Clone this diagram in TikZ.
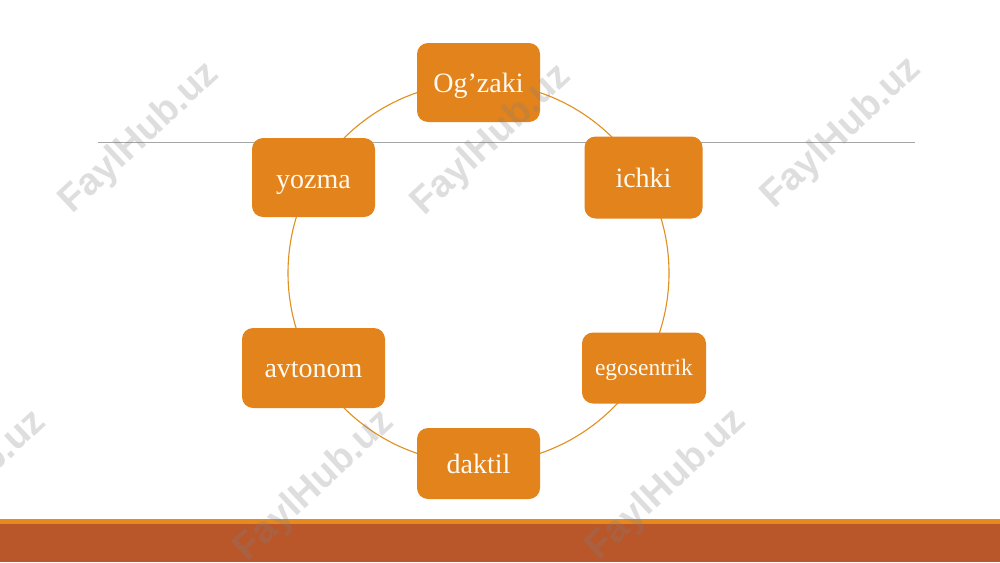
\documentclass[tikz,border=0pt]{standalone}
\usepackage{fontspec}
\setmainfont{Liberation Serif}
\newfontfamily\wmfont{Liberation Sans}
\definecolor{nodeorange}{HTML}{E3831B}
\definecolor{ringorange}{HTML}{E0901F}
\definecolor{bandbrown}{HTML}{B9572B}
\definecolor{bandorange}{HTML}{E68A1E}
\definecolor{rulegray}{HTML}{A6A6A6}
\definecolor{txtcream}{HTML}{FFF9F0}
\begin{document}
\begin{tikzpicture}[x=1pt,y=-1pt,
  box/.style={draw=none, fill=nodeorange, rounded corners=11pt, text=txtcream,
    font=\fontsize{28}{30}\selectfont, inner sep=0pt, align=center,
    text height=25pt, text depth=6pt},
  ring/.style={draw=ringorange, line width=1.1pt},
  wm/.style={text=gray, opacity=0.26, font=\wmfont\bfseries\fontsize{38}{40}\selectfont, rotate=43, inner sep=0pt}]
\useasboundingbox (0,0) rectangle (1000,562);
\fill[white] (0,0) rectangle (1000,562);
% bottom band
\fill[bandorange] (0,518.5) rectangle (1000,524.5);
\fill[bandbrown] (0,524) rectangle (1000,562);
% horizontal rule
\coordinate (ruleL) at (98,142);
\coordinate (ruleR) at (915,142);
\draw[rulegray, line width=0.9pt] (ruleL) -- (ruleR);
% ring
\coordinate (ctr) at (478.5,273);
\draw[ring] (ctr) circle[radius=190.5pt];
% nodes
\node[box, minimum width=123pt, minimum height=79pt] (ogzaki) at (478.5,82.5) {Og’zaki};
\node[box, minimum width=118pt, minimum height=82pt] (ichki) at (643.5,177.5) {ichki};
\node[box, minimum width=124pt, minimum height=71pt, font=\fontsize{23.5}{26}\selectfont, text height=21pt, text depth=6pt] (ego) at (644,368) {egosentrik};
\node[box, minimum width=123pt, minimum height=71pt] (daktil) at (478.5,463.5) {daktil};
\node[box, minimum width=143pt, minimum height=80pt] (avtonom) at (313.5,368) {avtonom};
\node[box, minimum width=123pt, minimum height=79pt, text height=28pt] (yozma) at (313.5,177.5) {yozma};
% watermarks
\node[wm] (w1) at (140,138) {FaylHub.uz};
\node[wm] (w2) at (492,140) {FaylHub.uz};
\node[wm] (w3) at (842,133) {FaylHub.uz};
\node[wm] (w4) at (-33,486) {FaylHub.uz};
\node[wm] (w5) at (315,486) {FaylHub.uz};
\node[wm] (w6) at (667,485) {FaylHub.uz};
\end{tikzpicture}
\end{document}
